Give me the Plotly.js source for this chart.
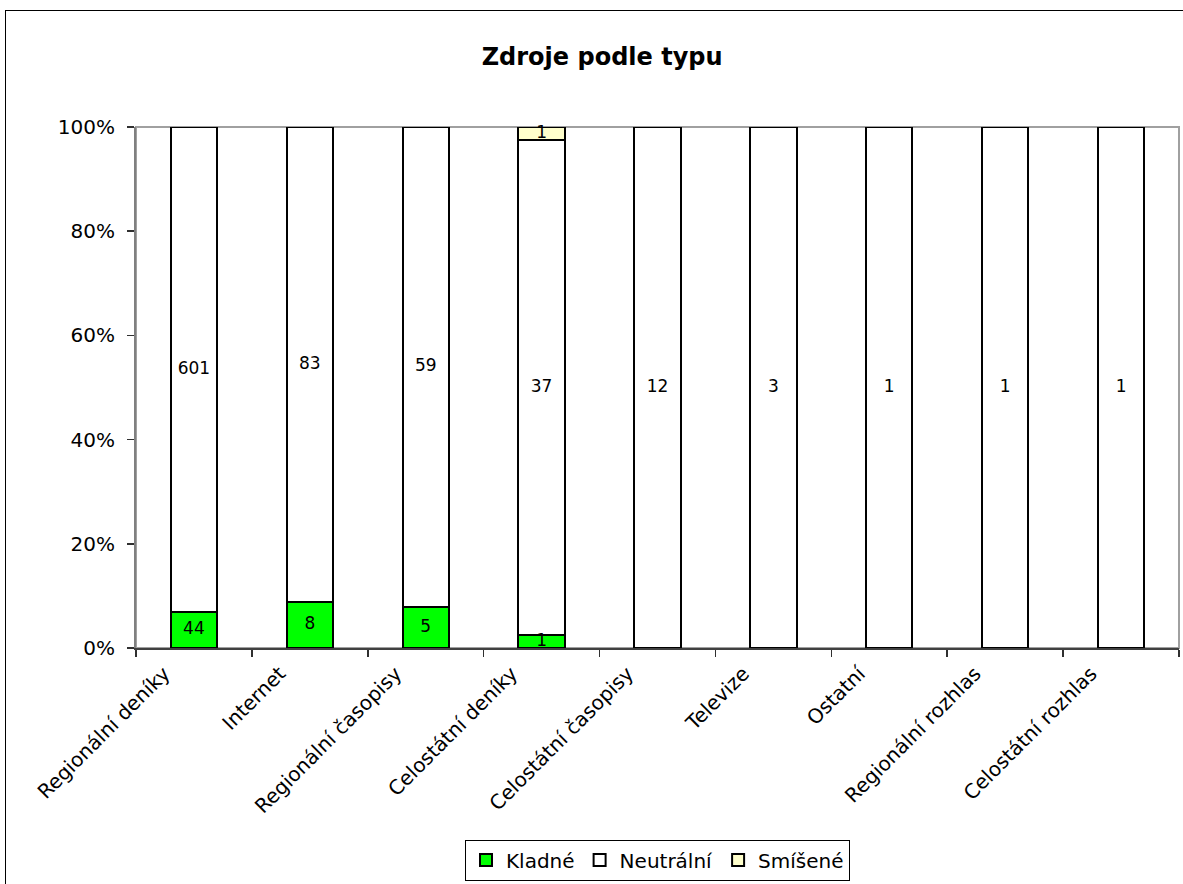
<!DOCTYPE html>
<html>
<head>
<meta charset="utf-8">
<script src="https://cdn.plot.ly/plotly-3.0.1.min.js"></script>
<style>
html,body{margin:0;padding:0;background:#fff;overflow:hidden;}
#chart{position:absolute;left:0;top:0;width:1183px;height:884px;}
#frame{position:absolute;left:5px;top:10px;width:1300px;height:1000px;border:1px solid #000;pointer-events:none;}
</style>
</head>
<body>
<div id="chart"></div>
<div id="frame"></div>
<script>
const categories = ["Regionální deníky","Internet","Regionální časopisy","Celostátní deníky","Celostátní časopisy","Televize","Ostatní","Regionální rozhlas","Celostátní rozhlas"];
const kladne = [44, 8, 5, 1, 0, 0, 0, 0, 0];
const neutralni = [601, 83, 59, 37, 12, 3, 1, 1, 1];
const smisene = [0, 0, 0, 1, 0, 0, 0, 0, 0];
const tickVals = [0, 20, 40, 60, 80, 100];
const tickText = ["0%","20%","40%","60%","80%","100%"];

const FONT = 'DejaVu Sans, Liberation Sans, Arial, sans-serif';
const series = [
  {name:'Kladné', vals:kladne, color:'#00FF00'},
  {name:'Neutrální', vals:neutralni, color:'#FFFFFF'},
  {name:'Smíšené', vals:smisene, color:'#FFFFCC'}
];
const totals = categories.map((c,i) => kladne[i] + neutralni[i] + smisene[i]);

const data = series.map(s => ({
  type:'bar', name:s.name, x:categories,
  y:s.vals.map(v => v === 0 ? null : v),
  marker:{color:s.color, line:{color:'#000', width:2}},
  hoverinfo:'skip'
}));

// value labels placed at the middle of each stacked segment (percent scale)
series.forEach((s, si) => {
  const xs = [], ys = [], ts = [];
  categories.forEach((c, i) => {
    if (s.vals[i] === 0) return;
    let below = 0;
    for (let k = 0; k < si; k++) below += series[k].vals[i];
    xs.push(c);
    ys.push((below + s.vals[i] / 2) / totals[i] * 100);
    ts.push(String(s.vals[i]));
  });
  data.push({type:'scatter', mode:'text', x:xs, y:ys, text:ts, showlegend:false, cliponaxis:false,
    textposition:'middle center', textfont:{family:FONT, size:17, color:'#000'}, hoverinfo:'skip'});
});

const layout = {
  width:1183, height:884,
  margin:{l:136, r:4, t:127, b:232},
  paper_bgcolor:'#fff', plot_bgcolor:'#fff',
  barmode:'stack', barnorm:'percent', bargap:0.6,
  font:{family:FONT, color:'#000'},
  title:{text:'<b>Zdroje podle typu</b>', xref:'container', x:0.509, xanchor:'center', yref:'container', y:1-57/884, yanchor:'middle', font:{family:FONT, size:24, color:'#000'}},
  showlegend:true,
  legend:{orientation:'h', xref:'paper', x:0.5, xanchor:'center', yref:'paper', y:-0.3676, yanchor:'top',
    bordercolor:'#000', borderwidth:1, bgcolor:'#fff', font:{family:FONT, size:20}, traceorder:'normal',
    itemwidth:30, tracegroupgap:0},
  xaxis:{type:'category', tickangle:-45, tickson:'boundaries', ticks:'outside', ticklen:7, tickcolor:'#303030', tickwidth:1.5,
    ticklabelshift:-30, ticklabelstandoff:4,
    showline:true, linecolor:'#404040', linewidth:2, showgrid:false, tickfont:{family:FONT, size:20}, automargin:false},
  yaxis:{range:[0,100], tickvals:tickVals, ticktext:tickText, ticks:'outside', ticklen:7, tickcolor:'#303030', tickwidth:1.5,
    ticklabelstandoff:8,
    showline:true, linecolor:'#808080', linewidth:2, showgrid:false, zeroline:false, tickfont:{family:FONT, size:20}, automargin:false},
  shapes:[{type:'rect', xref:'paper', yref:'paper', x0:0, x1:1, y0:0, y1:1, line:{color:'#a0a0a0', width:2}, layer:'below'}]
};
Plotly.newPlot('chart', data, layout, {displayModeBar:false, staticPlot:true});
</script>
</body>
</html>
